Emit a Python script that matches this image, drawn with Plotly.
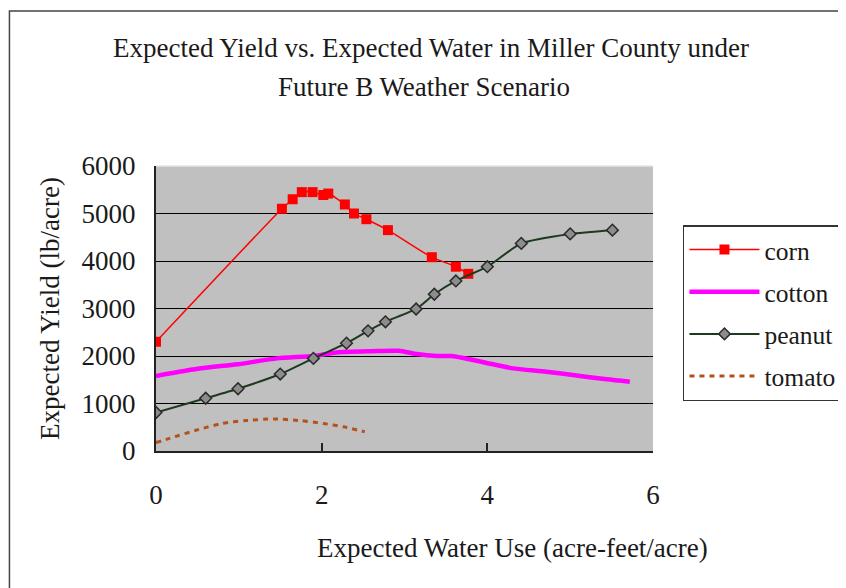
import plotly.graph_objects as go

# ---- data ----
corn_x = [0.00, 1.52, 1.65, 1.76, 1.89, 2.02, 2.08, 2.28, 2.39, 2.54, 2.80, 3.33, 3.62, 3.77]
corn_y = [2300, 5100, 5300, 5450, 5450, 5390, 5420, 5190, 5000, 4880, 4650, 4080, 3880, 3730]

cotton_x = [0.00, 0.54, 0.98, 1.46, 1.90, 2.18, 2.60, 2.93, 3.15, 3.39, 3.57, 4.07, 4.31, 4.71, 5.03, 5.44, 5.72]
cotton_y = [1580, 1740, 1825, 1950, 2000, 2075, 2100, 2110, 2040, 2000, 2000, 1825, 1740, 1670, 1600, 1510, 1460]

peanut_x = [0.00, 0.60, 0.99, 1.50, 1.90, 2.30, 2.56, 2.77, 3.14, 3.36, 3.62, 4.00, 4.41, 5.00, 5.51]
peanut_y = [810, 1110, 1310, 1620, 1950, 2270, 2530, 2720, 2990, 3300, 3580, 3880, 4370, 4570, 4650]

tomato_x = [0.00, 0.17, 0.52, 0.80, 1.08, 1.42, 1.74, 2.02, 2.26, 2.52]
tomato_y = [175, 270, 455, 580, 640, 675, 640, 580, 510, 405]

x_ticks = [0, 2, 4, 6]
y_ticks = [0, 1000, 2000, 3000, 4000, 5000, 6000]

title_line1 = "Expected Yield vs. Expected Water in Miller County under"
title_line2 = "Future B Weather Scenario"
x_title = "Expected Water Use (acre-feet/acre)"
y_title = "Expected Yield (lb/acre)"

FONT = "Liberation Serif, Times New Roman, serif"
TXT = "#1a1a1a"
FS = 27

# page body has an 8px margin; work in screenshot pixels and shift
OFF = 8
W, H = 846 - OFF, 588 - OFF
L, R, T, B = 155.5 - OFF, 653.0 - OFF, 166.0 - OFF, 451.0 - OFF
pw, ph = R - L, B - T


def px_x(px):
    return (px - OFF - L) / pw


def px_y(py):
    return (B - (py - OFF)) / ph


fig = go.Figure()
fig.add_trace(go.Scatter(
    x=corn_x, y=corn_y, name="corn", legendgroup="a",
    mode="lines+markers", line=dict(color="#FF0000", width=1.5, shape="spline", smoothing=0.6),
    marker=dict(symbol="square", size=10, color="#FF0000")))
fig.add_trace(go.Scatter(
    x=cotton_x, y=cotton_y, name="cotton", legendgroup="b",
    mode="lines", line=dict(color="#FF00FF", width=4.5, shape="spline", smoothing=0.6)))
fig.add_trace(go.Scatter(
    x=peanut_x, y=peanut_y, name="peanut", legendgroup="c",
    mode="lines+markers", line=dict(color="#1E3A1E", width=2, shape="spline", smoothing=0.6),
    marker=dict(symbol="diamond", size=9, color="#8C8C8C", line=dict(color="#2A2A2A", width=1.5))))
fig.add_trace(go.Scatter(
    x=tomato_x, y=tomato_y, name="tomato", legendgroup="d",
    mode="lines", line=dict(color="#B4521C", width=3, dash="5px,5px", shape="spline", smoothing=0.6)))

fig.update_layout(
    width=W, height=H,
    margin=dict(l=L, r=W - R, t=T, b=H - B, autoexpand=False),
    paper_bgcolor="white", plot_bgcolor="#C0C0C0",
    font=dict(family=FONT, size=FS, color=TXT),
    showlegend=True,
    legend=dict(x=px_x(683), y=px_y(225), xanchor="left", yanchor="top",
                bgcolor="white", bordercolor="#333333", borderwidth=1.5,
                font=dict(family=FONT, size=25.5, color=TXT),
                tracegroupgap=6, itemwidth=70),
)
fig.update_xaxes(range=[0, 6], tickvals=x_ticks, showgrid=False, zeroline=False,
                 showline=True, linecolor="#222222", linewidth=2,
                 ticks="inside", ticklen=8, tickcolor="#222222", tickwidth=1.5,
                 ticklabelstandoff=19, tickfont=dict(family=FONT, size=FS, color=TXT))
fig.update_yaxes(range=[0, 6000], tickvals=y_ticks, showgrid=True, gridcolor="#000000", gridwidth=1.2,
                 zeroline=False, showline=True, linecolor="#222222", linewidth=2,
                 ticks="", ticklabelstandoff=13, tickfont=dict(family=FONT, size=FS, color=TXT),
                 title=dict(text=y_title, standoff=14, font=dict(family=FONT, size=FS, color=TXT)))

# chart title (two lines)
fig.add_annotation(text=title_line1, xref="paper", yref="paper",
                   x=px_x(431), y=px_y(48), xanchor="center", yanchor="middle",
                   showarrow=False, font=dict(family=FONT, size=FS, color=TXT))
fig.add_annotation(text=title_line2, xref="paper", yref="paper",
                   x=px_x(424), y=px_y(87), xanchor="center", yanchor="middle",
                   showarrow=False, font=dict(family=FONT, size=FS, color=TXT))
# x-axis title
fig.add_annotation(text=x_title, xref="paper", yref="paper",
                   x=px_x(512), y=px_y(548), xanchor="center", yanchor="middle",
                   showarrow=False, font=dict(family=FONT, size=FS, color=TXT))

# light top edge of the plot area
fig.add_shape(type="line", xref="paper", yref="paper", x0=0, x1=1, y0=1, y1=1,
              line=dict(color="#E4E4E4", width=1.5), layer="above")

# outer chart border (extends beyond the right/bottom of the frame)
fig.add_shape(type="rect", xref="paper", yref="paper",
              x0=px_x(8.8), y0=px_y(620), x1=px_x(880), y1=px_y(11),
              line=dict(color="#444444", width=1.5), fillcolor="rgba(0,0,0,0)", layer="below")

fig.write_html("out.html")
